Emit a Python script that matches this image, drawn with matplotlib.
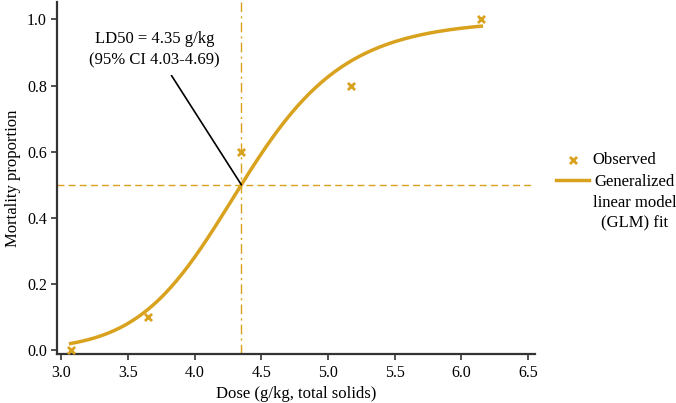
import numpy as np
import matplotlib
matplotlib.use("Agg")
import matplotlib.pyplot as plt

plt.rcParams['font.family'] = ['Liberation Serif', 'DejaVu Serif']

# Observed data
dose = [3.07, 3.65, 4.35, 5.17, 6.15]
mortality = [0.0, 0.1, 0.6, 0.8, 1.0]

# GLM fit parameters (logit on log-dose)
ld50 = 4.35
slope = 11.2
x_ticks = [3.0, 3.5, 4.0, 4.5, 5.0, 5.5, 6.0, 6.5]
y_ticks = [0.0, 0.2, 0.4, 0.6, 0.8, 1.0]

gold = '#D9A21E'

fig = plt.figure(figsize=(6.76, 4.03), dpi=100)
ax = fig.add_axes([0.0848, 0.1208, 0.7067, 0.874])

xs = np.linspace(min(dose), max(dose), 200)
fit = 1.0 / (1.0 + np.exp(-slope * (np.log(xs) - np.log(ld50))))

ax.axhline(0.5, color=gold, ls=(0, (5, 3)), lw=1.0, zorder=1)
ax.axvline(ld50, color=gold, ls=(0, (7, 3, 1.5, 3)), lw=1.0, zorder=1)
ax.scatter(dose, mortality, marker='x', s=26, color=gold, linewidths=2.0,
           label='Observed', zorder=3)
ax.plot(xs, fit, color=gold, lw=2.5, label='Generalized\nlinear model\n(GLM) fit', zorder=2)

ax.annotate('LD50 = 4.35 g/kg\n(95% CI 4.03-4.69)', xy=(ld50, 0.5), xytext=(3.70, 0.91),
            ha='center', va='center', fontsize=12, linespacing=1.45,
            bbox=dict(boxstyle='square,pad=0.45', fc='white', ec='none'),
            arrowprops=dict(arrowstyle='-', color='black', lw=1.2, shrinkA=0, shrinkB=0),
            zorder=4)

ax.set_xlim(2.970, 6.553)
ax.set_ylim(-0.013, 1.0525)
ax.set_xticks(x_ticks)
ax.set_yticks(y_ticks)
ax.set_xticklabels([f'{v:.1f}' for v in x_ticks])
ax.set_yticklabels([f'{v:.1f}' for v in y_ticks])
ax.tick_params(direction='out', length=4, width=1.2, labelsize=11.5, color='#333333')
for s in ['top', 'right']:
    ax.spines[s].set_visible(False)
for s in ['left', 'bottom']:
    ax.spines[s].set_linewidth(1.6)
    ax.spines[s].set_color('#333333')
ax.set_xlabel('Dose (g/kg, total solids)', fontsize=12)
ax.set_ylabel('Mortality proportion', fontsize=12)

leg = ax.legend(loc='center left', bbox_to_anchor=(1.0126, 0.461), frameon=False,
                fontsize=12, handlelength=2.0, handletextpad=0.2, labelspacing=0.35,
                alignment='left')
for t in leg.get_texts():
    t.set_multialignment('center')
    t.set_linespacing(1.4)
# put the fit-line handle level with the first line of its label
line_handle = leg.legend_handles[1]
line_handle.set_ydata(np.asarray(line_handle.get_ydata()) + 16.5)

fig.savefig('out.png', dpi=100)
